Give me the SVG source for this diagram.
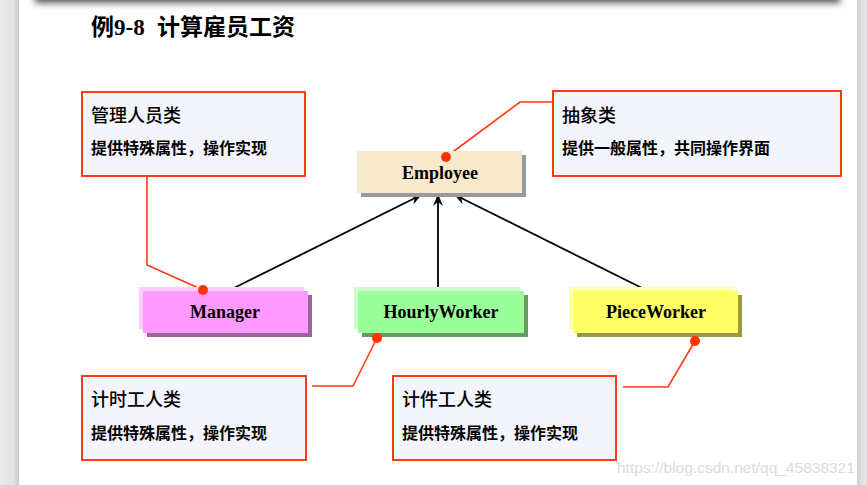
<svg xmlns="http://www.w3.org/2000/svg" width="867" height="485" viewBox="0 0 867 485">
<defs>
<linearGradient id="lg" x1="0" x2="1" y1="0" y2="0">
<stop offset="0" stop-color="#e9e9e9"/><stop offset="0.7" stop-color="#e4e4e4"/><stop offset="1" stop-color="#c8c8c8"/>
</linearGradient>
<linearGradient id="rg" x1="0" x2="1" y1="0" y2="0">
<stop offset="0" stop-color="#cfcfcf"/><stop offset="0.4" stop-color="#dedede"/><stop offset="1" stop-color="#e6e6e6"/>
</linearGradient>
<filter id="blur" x="-0.1" y="-2" width="1.2" height="5"><feGaussianBlur stdDeviation="3.5"/></filter>
<marker id="arr" viewBox="0 0 12 10" refX="11" refY="5" markerWidth="12" markerHeight="10" markerUnits="userSpaceOnUse" orient="auto">
<path d="M0,0 L12,5 L0,10 L4,5 Z" fill="#000"/>
</marker>
</defs>
<style>
.note{fill:#f4f4fc;stroke:#ff3a10;stroke-width:2}
.lead{fill:none;stroke:#ff3a10;stroke-width:1.6}
.dot{fill:#ff3300}
.nt{font-family:"Noto Sans CJK SC",sans-serif;font-size:18px;font-weight:500;fill:#000}
.nd{font-family:"Noto Sans CJK SC",sans-serif;font-size:16px;font-weight:700;fill:#000}
.cls{font-family:"Liberation Serif","Times New Roman",serif;font-size:18px;font-weight:700;fill:#000;text-anchor:middle}
.edge{stroke:#000;stroke-width:1.8;fill:none;marker-end:url(#arr)}
.ttl{font-family:"Liberation Serif","Noto Sans CJK SC",serif;font-size:23px;font-weight:700;fill:#000}
</style>
<rect width="867" height="485" fill="#fff"/>
<rect x="35" y="-14" width="805" height="17" fill="#555" filter="url(#blur)"/>
<rect x="0" y="0" width="19" height="485" fill="url(#lg)"/>
<text class="ttl" x="91" y="35">例9-8</text>
<text class="ttl" x="157" y="35">计算雇员工资</text>
<text x="617" y="473" font-family="'Liberation Sans',Arial,sans-serif" font-size="15.5" fill="#dcdcdc">https://blog.csdn.net/qq_45838321</text>
<rect x="857" y="0" width="10" height="485" fill="url(#rg)"/>

<g id="connectors">
<line class="edge" x1="228" y1="291" x2="421" y2="195"/>
<line class="edge" x1="438" y1="291" x2="438" y2="195"/>
<line class="edge" x1="648" y1="291" x2="455" y2="195"/>
<polyline class="lead" points="147,176 147,265 203,290"/>
<polyline class="lead" points="446,157 520,102 553,102"/>
<polyline class="lead" points="377,338 353,386 312,386"/>
<polyline class="lead" points="695,341 668,387 623,387"/>
</g>

<g id="employee">
<rect x="361" y="155" width="165" height="42" fill="#999"/>
<rect x="357" y="151" width="165" height="42" fill="#f8e8cc"/>
<text class="cls" x="440" y="179">Employee</text>
<circle class="dot" cx="446" cy="157" r="5"/>
</g>

<g id="manager">
<rect x="147" y="295" width="165" height="42" fill="#996699"/>
<rect x="139" y="287" width="165" height="42" fill="#ffccff"/>
<rect x="143" y="291" width="165" height="42" fill="#ff99ff"/>
<text class="cls" x="225" y="318">Manager</text>
<circle class="dot" cx="203" cy="290" r="5"/>
</g>

<g id="hourlyworker">
<rect x="362" y="295" width="166" height="42" fill="#669966"/>
<rect x="354" y="287" width="166" height="42" fill="#ccffcc"/>
<rect x="358" y="291" width="166" height="42" fill="#99ff99"/>
<text class="cls" x="441" y="318">HourlyWorker</text>
<circle class="dot" cx="377" cy="338" r="5"/>
</g>

<g id="pieceworker">
<rect x="577" y="295" width="165" height="42" fill="#999944"/>
<rect x="569" y="287" width="165" height="42" fill="#ffffaa"/>
<rect x="573" y="291" width="165" height="42" fill="#ffff66"/>
<text class="cls" x="656" y="318">PieceWorker</text>
<circle class="dot" cx="695" cy="341" r="5"/>
</g>

<g id="note-manager">
<rect class="note" x="82" y="92" width="223" height="84"/>
<text class="nt" x="91" y="122">管理人员类</text>
<text class="nd" x="91" y="154">提供特殊属性，操作实现</text>
</g>

<g id="note-abstract">
<rect class="note" x="553" y="91" width="288" height="85"/>
<text class="nt" x="562" y="122">抽象类</text>
<text class="nd" x="562" y="154">提供一般属性，共同操作界面</text>
</g>

<g id="note-hourly">
<rect class="note" x="82" y="376" width="224" height="84"/>
<text class="nt" x="91" y="406">计时工人类</text>
<text class="nd" x="91" y="439">提供特殊属性，操作实现</text>
</g>

<g id="note-piece">
<rect class="note" x="393" y="376" width="223" height="84"/>
<text class="nt" x="402" y="406">计件工人类</text>
<text class="nd" x="402" y="439">提供特殊属性，操作实现</text>
</g>
</svg>
